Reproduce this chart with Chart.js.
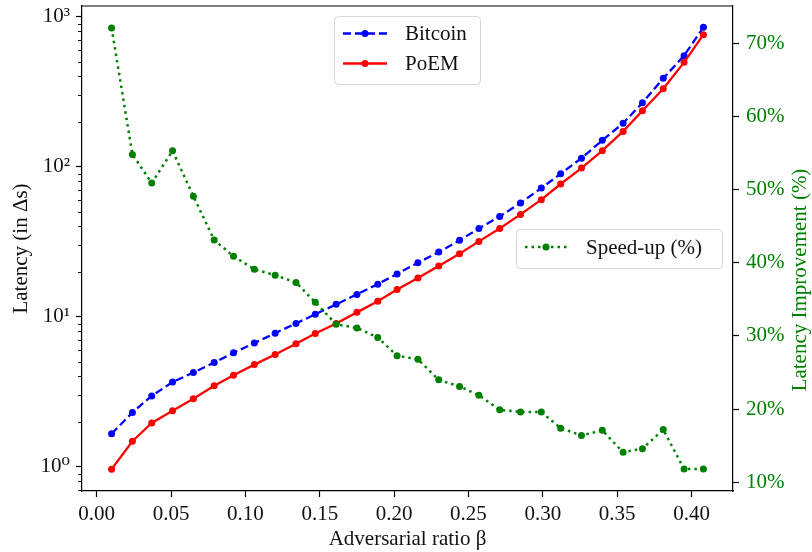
<!DOCTYPE html>
<html>
<head>
<meta charset="utf-8">
<script src="https://cdn.jsdelivr.net/npm/chart.js@4/dist/chart.umd.min.js"></script>
<style>
  body { margin: 0; background: #fff; }
  #wrap { width: 812px; height: 552px; }
</style>
</head>
<body>
<div id="wrap"><canvas id="chart" width="812" height="552"></canvas></div>
<script>
// values
const beta = [0.010, 0.024, 0.037, 0.051, 0.065, 0.079, 0.092, 0.106, 0.120, 0.134,
              0.147, 0.161, 0.175, 0.189, 0.202, 0.216, 0.230, 0.244, 0.257, 0.271,
              0.285, 0.299, 0.312, 0.326, 0.340, 0.354, 0.367, 0.381, 0.395, 0.408];
const bitcoinLatency = [1.66, 2.30, 2.97, 3.67, 4.25, 4.95, 5.75, 6.68, 7.78, 9.02,
                        10.4, 12.1, 14.1, 16.5, 19.3, 22.9, 27.0, 32.3, 38.8, 46.6,
                        57.3, 72.1, 89.8, 114, 150, 195, 267, 388, 550, 849];
const poemLatency = [0.965, 1.48, 1.96, 2.36, 2.84, 3.47, 4.08, 4.80, 5.61, 6.61,
                     7.74, 9.02, 10.7, 12.7, 15.2, 18.1, 21.8, 26.3, 31.8, 38.8,
                     48.1, 60.3, 76.7, 98, 128, 172, 236, 331, 496, 759];
const speedupPct = [72.1, 54.8, 50.9, 55.3, 49.1, 43.1, 40.9, 39.1, 38.3, 37.3,
                    34.6, 31.6, 31.1, 29.8, 27.3, 26.8, 24.0, 23.1, 21.9, 19.9,
                    19.6, 19.6, 17.4, 16.4, 17.1, 14.1, 14.6, 17.2, 11.8, 11.8];

const xTicks = [0, 0.05, 0.10, 0.15, 0.20, 0.25, 0.30, 0.35, 0.40];
const latencyTicks = [1, 10, 100, 1000];
const latencyTickLabels = ['10\u2070', '10\u00b9', '10\u00b2', '10\u00b3'];
const latencyMinorTicks = [0.7, 0.8, 0.9, 2, 3, 4, 5, 6, 7, 8, 9,
                           20, 30, 40, 50, 60, 70, 80, 90,
                           200, 300, 400, 500, 600, 700, 800, 900];
const speedupTicks = [10, 20, 30, 40, 50, 60, 70];

const FONT = "'Liberation Serif', 'DejaVu Serif', serif";
const GREEN = '#008000';

const pts = ys => beta.map((x, i) => ({ x: x, y: ys[i] }));

// keep the plot box fixed, like the reference figure
const fitY = w => s => { s.width = w; s.paddingTop = 0; s.paddingBottom = 0; };
const fitX = h => s => { s.height = h; s.paddingLeft = 0; s.paddingRight = 0; };

// draws the top spine, minor log ticks, right title and the two legends
const decorations = {
  id: 'decorations',
  afterDraw(chart) {
    const { ctx, chartArea: a } = chart;
    const yScale = chart.scales.y;
    ctx.save();

    ctx.strokeStyle = '#000';
    ctx.lineWidth = 1.2;
    ctx.beginPath();
    ctx.moveTo(a.left, a.top);
    ctx.lineTo(a.right, a.top);
    ctx.stroke();

    ctx.lineWidth = 0.9;
    latencyMinorTicks.forEach(v => {
      const py = Math.round(yScale.getPixelForValue(v)) + 0.5;
      ctx.beginPath();
      ctx.moveTo(a.left - 4, py);
      ctx.lineTo(a.left, py);
      ctx.stroke();
    });

    ctx.fillStyle = GREEN;
    ctx.font = '21px ' + FONT;
    ctx.textAlign = 'center';
    ctx.textBaseline = 'middle';
    ctx.translate(800, 280);
    ctx.rotate(-Math.PI / 2);
    ctx.fillText('Latency Improvement (%)', 0, 0);
    ctx.setTransform(1, 0, 0, 1, 0, 0);

    const box = (x, y, w, h) => {
      ctx.beginPath();
      ctx.roundRect(x, y, w, h, 4);
      ctx.fillStyle = 'rgba(255,255,255,0.8)';
      ctx.fill();
      ctx.strokeStyle = '#d6d6d6';
      ctx.lineWidth = 1;
      ctx.stroke();
    };
    const entry = (x0, x1, y, color, dash, label, tx) => {
      ctx.strokeStyle = color;
      ctx.lineWidth = 2.3;
      ctx.setLineDash(dash);
      ctx.beginPath();
      ctx.moveTo(x0, y);
      ctx.lineTo(x1, y);
      ctx.stroke();
      ctx.setLineDash([]);
      ctx.fillStyle = color;
      ctx.beginPath();
      ctx.arc((x0 + x1) / 2, y, 3.5, 0, Math.PI * 2);
      ctx.fill();
      ctx.fillStyle = '#111';
      ctx.textAlign = 'left';
      ctx.textBaseline = 'middle';
      ctx.font = '21px ' + FONT;
      ctx.fillText(label, tx, y + 1);
    };

    box(334.5, 16.5, 146, 68);
    entry(343, 387, 33.5, '#0000ff', [8, 4], 'Bitcoin', 405);
    entry(343, 387, 63.5, '#ff0000', [], 'PoEM', 405);

    box(516.5, 229.5, 206, 39);
    entry(525, 567, 247, GREEN, [2.5, 4], 'Speed-up (%)', 586);

    ctx.restore();
  }
};

new Chart(document.getElementById('chart'), {
  type: 'line',
  data: {
    datasets: [
      {
        label: 'Speed-up (%)',
        data: pts(speedupPct),
        yAxisID: 'y1',
        borderColor: GREEN,
        backgroundColor: GREEN,
        borderWidth: 2.5,
        borderDash: [2.5, 4],
        pointRadius: 3.5,
        pointBorderWidth: 0,
        order: 0
      },
      {
        label: 'PoEM',
        data: pts(poemLatency),
        yAxisID: 'y',
        borderColor: '#ff0000',
        backgroundColor: '#ff0000',
        borderWidth: 2.3,
        pointRadius: 3.5,
        pointBorderWidth: 0,
        order: 1
      },
      {
        label: 'Bitcoin',
        data: pts(bitcoinLatency),
        yAxisID: 'y',
        borderColor: '#0000ff',
        backgroundColor: '#0000ff',
        borderWidth: 2.3,
        borderDash: [8, 4],
        pointRadius: 3.5,
        pointBorderWidth: 0,
        order: 2
      }
    ]
  },
  options: {
    responsive: false,
    animation: false,
    devicePixelRatio: 1,
    layout: { padding: { top: 6, left: 0, right: 0, bottom: 0 } },
    plugins: {
      legend: { display: false },
      tooltip: { enabled: false }
    },
    elements: { line: { tension: 0, fill: false } },
    scales: {
      x: {
        type: 'linear',
        min: -0.0099,
        max: 0.4279,
        afterBuildTicks: s => { s.ticks = xTicks.map(v => ({ value: v })); },
        afterFit: fitX(61),
        grid: { drawOnChartArea: false, drawTicks: true, tickLength: 6, tickColor: '#000', tickWidth: 1.2 },
        border: { display: true, color: '#000', width: 1.2 },
        ticks: {
          color: '#111',
          padding: 5,
          maxRotation: 0,
          font: { family: FONT, size: 21 },
          callback: v => v.toFixed(2)
        },
        title: {
          display: true,
          text: 'Adversarial ratio β',
          color: '#111',
          font: { family: FONT, size: 21 },
          padding: { top: 0, bottom: 0 }
        }
      },
      y: {
        type: 'logarithmic',
        position: 'left',
        min: 0.69,
        max: 1178,
        afterBuildTicks: s => { s.ticks = latencyTicks.map(v => ({ value: v })); },
        afterFit: fitY(82),
        grid: { drawOnChartArea: false, drawTicks: true, tickLength: 6, tickColor: '#000', tickWidth: 1.2 },
        border: { display: true, color: '#000', width: 1.2 },
        ticks: {
          color: '#111',
          padding: 6,
          font: { family: FONT, size: 21 },
          callback: v => latencyTickLabels[latencyTicks.indexOf(v)] || ''
        },
        title: {
          display: true,
          text: 'Latency (in Δs)',
          color: '#111',
          font: { family: FONT, size: 21 },
          padding: { top: 9, bottom: 0 }
        }
      },
      y1: {
        type: 'linear',
        position: 'right',
        min: 8.81,
        max: 75.09,
        afterBuildTicks: s => { s.ticks = speedupTicks.map(v => ({ value: v })); },
        afterFit: fitY(79),
        grid: { drawOnChartArea: false, drawTicks: true, tickLength: 6, tickColor: '#000', tickWidth: 1.2 },
        border: { display: true, color: '#000', width: 1.2 },
        ticks: {
          color: GREEN,
          padding: 7,
          font: { family: FONT, size: 21 },
          callback: v => v + '%'
        }
      }
    }
  },
  plugins: [decorations]
});
</script>
</body>
</html>
